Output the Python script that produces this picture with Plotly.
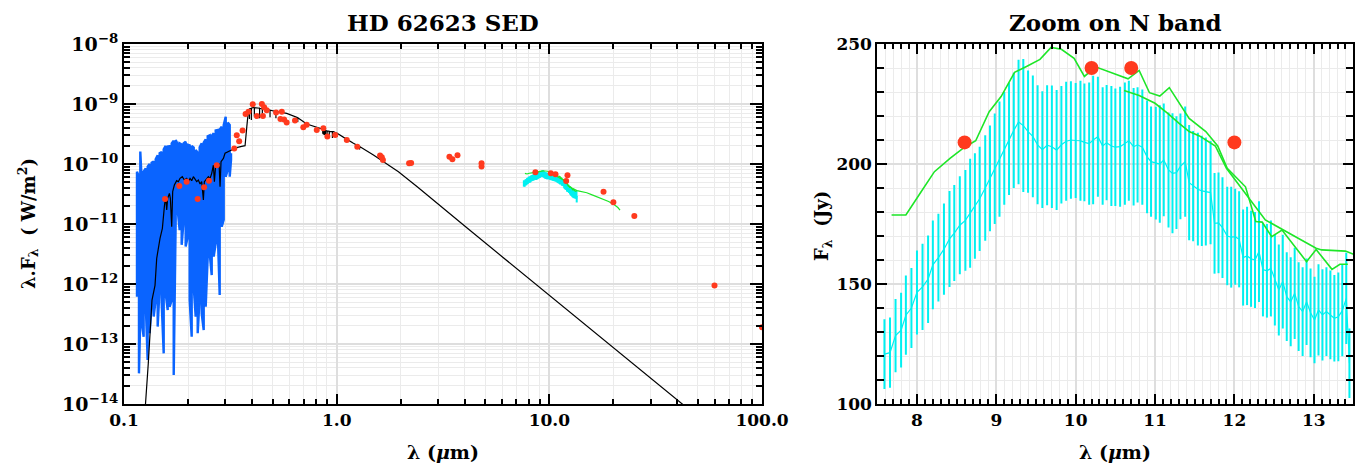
import plotly.graph_objects as go

# ---------------- data ----------------
# UV spectrum (upper / lower envelope of the noisy flux), um and W/m^2
uv_wave = [0.1151, 0.1176, 0.1193, 0.1211, 0.1237, 0.1265, 0.1292, 0.1320, 0.1349, 0.1379,
           0.1409, 0.1440, 0.1471, 0.1504, 0.1537, 0.1570, 0.1605, 0.1640, 0.1676, 0.1713,
           0.1750, 0.1788, 0.1827, 0.1867, 0.1908, 0.1950, 0.1993, 0.2036, 0.2081, 0.2127,
           0.2173, 0.2221, 0.2269, 0.2319, 0.2370, 0.2422, 0.2475, 0.2529, 0.2585, 0.2641,
           0.2699, 0.2758, 0.2818, 0.2880, 0.2943, 0.3008, 0.3073, 0.3141, 0.3186]
uv_top = [7.45e-11, 6.15e-11, 1.61e-10, 5.41e-11, 7.45e-11, 8.48e-11, 9.04e-11, 1.00e-10, 1.05e-10, 1.10e-10,
          1.20e-10, 1.40e-10, 1.51e-10, 1.58e-10, 1.76e-10, 2.00e-10, 1.95e-10, 1.98e-10, 2.21e-10, 2.45e-10,
          2.51e-10, 2.15e-10, 2.21e-10, 2.12e-10, 2.21e-10, 2.35e-10, 2.10e-10, 2.05e-10, 2.00e-10, 1.88e-10,
          1.71e-10, 1.55e-10, 1.90e-10, 2.21e-10, 2.28e-10, 2.58e-10, 2.90e-10, 3.00e-10, 2.95e-10, 3.24e-10,
          3.62e-10, 3.69e-10, 3.75e-10, 4.19e-10, 4.45e-10, 6.15e-10, 4.89e-10, 4.47e-10, 1.51e-10]
uv_bot = [6.15e-13, 3.24e-14, 2.86e-13, 2.36e-13, 1.32e-13, 4.76e-13, 5.41e-14, 1.51e-13, 4.76e-13, 2.86e-13,
          5.41e-13, 1.95e-13, 9.04e-13, 4.76e-13, 6.98e-14, 6.98e-13, 3.69e-13, 4.19e-13, 5.41e-13, 3.04e-14,
          1.17e-11, 1.71e-11, 7.94e-12, 4.50e-12, 1.17e-11, 4.20e-12, 6.15e-12, 5.41e-13, 1.32e-13, 9.04e-13,
          2.86e-13, 1.51e-13, 6.15e-13, 3.24e-13, 1.71e-13, 4.19e-13, 2.86e-12, 3.24e-12, 1.41e-12, 2.86e-12,
          4.76e-12, 7.94e-12, 6.56e-13, 9.04e-12, 1.17e-11, 6.15e-11, 7.94e-11, 6.15e-11, 1.17e-10]

# Photospheric model, um and W/m^2
model_wave = [0.1255, 0.1262, 0.1301, 0.1332, 0.1354, 0.1399, 0.1425, 0.1477, 0.1515, 0.1548,
              0.1570, 0.1588, 0.1605, 0.1635, 0.1652, 0.1676, 0.1694, 0.1725, 0.1769, 0.1801,
              0.1834, 0.1880, 0.1922, 0.1972, 0.2007, 0.2044, 0.2081, 0.2119, 0.2158, 0.2197,
              0.2237, 0.2278, 0.2319, 0.2362, 0.2387, 0.2448, 0.2493, 0.2539, 0.2585, 0.2632,
              0.2661, 0.2699, 0.2758, 0.2798, 0.2829, 0.2859, 0.2933, 0.2986, 0.3095, 0.3209,
              0.3388, 0.3577, 0.3709, 0.3780, 0.3842,
              0.3889, 0.3890, 0.3891, 0.3970, 0.3971, 0.3972, 0.4058,
              0.4101, 0.4102, 0.4103, 0.4340, 0.4341, 0.4342, 0.4471, 0.4472, 0.4473,
              0.4690, 0.4860, 0.4861, 0.4862, 0.5180, 0.5181, 0.5182, 0.5823,
              0.6562, 0.6563, 0.6564, 0.7232, 0.8500,
              0.8600, 0.8601, 0.8602, 0.8665, 0.8666, 0.8667, 0.8750, 0.8751, 0.8752,
              0.8863, 0.8864, 0.8865, 0.9015, 0.9016, 0.9017, 0.9229, 0.9230, 0.9231,
              0.9546, 0.9547, 0.9548, 0.9652, 1.0048, 1.0049, 1.0050, 1.0937, 1.0938, 1.0939,
              1.199, 1.2817, 1.2818, 1.2819, 1.489, 1.70, 1.952, 2.40, 2.85, 4.0, 6.0, 10.0,
              20.0, 43.0, 60.0]
model_flux = [5.0e-15, 1.0e-14, 4.8e-14, 1.7e-13, 5.4e-13, 9.5e-13, 2.68e-12, 5.77e-12, 8.48e-12, 1.95e-11,
              2.86e-11, 1.71e-11, 2.68e-11, 3.24e-11, 2.68e-11, 9.04e-12, 3.46e-11, 4.47e-11, 5.27e-11, 5.08e-11,
              5.77e-11, 6.15e-11, 5.41e-11, 5.77e-11, 5.08e-11, 5.77e-11, 5.27e-11, 6.15e-11, 5.55e-11, 5.08e-11,
              5.41e-11, 4.64e-11, 5.08e-11, 2.51e-11, 5.08e-11, 5.77e-11, 6.15e-11, 5.77e-11, 6.98e-11, 9.62e-11,
              5.08e-11, 9.62e-11, 9.04e-11, 1.03e-10, 4.19e-11, 1.09e-10, 1.24e-10, 1.51e-10, 1.60e-10, 1.75e-10,
              1.88e-10, 1.97e-10, 2.02e-10, 4.19e-10, 7.45e-10,
              8.3e-10, 5.6e-10, 8.3e-10, 8.5e-10, 5.4e-10, 8.5e-10, 8.8e-10,
              8.7e-10, 6.2e-10, 8.7e-10, 8.5e-10, 5.8e-10, 8.5e-10, 8.3e-10, 6.4e-10, 8.3e-10,
              8.1e-10, 7.9e-10, 6.0e-10, 7.9e-10, 7.5e-10, 5.8e-10, 7.5e-10, 6.98e-10,
              5.9e-10, 5.0e-10, 5.9e-10, 4.64e-10, 3.9e-10,
              3.8e-10, 3.2e-10, 3.8e-10, 3.75e-10, 3.1e-10, 3.75e-10, 3.7e-10, 3.05e-10, 3.7e-10,
              3.6e-10, 3.0e-10, 3.6e-10, 3.55e-10, 3.0e-10, 3.55e-10, 3.5e-10, 2.8e-10, 3.5e-10,
              3.47e-10, 2.7e-10, 3.47e-10, 3.46e-10, 3.25e-10, 2.85e-10, 3.25e-10, 2.7e-10, 2.4e-10, 2.7e-10,
              2.21e-10, 1.95e-10, 1.75e-10, 1.95e-10, 1.41e-10, 1.04e-10, 7.45e-11, 4.15e-11, 2.48e-11, 9.25e-12,
              2.85e-12, 6.46e-13, 8.6e-14, 9.3e-15, 3.6e-15]

# Broad-band photometry, um and W/m^2
sed_wave = [0.156, 0.182, 0.197, 0.222, 0.238, 0.251, 0.273, 0.330, 0.339, 0.348, 0.361,
            0.373, 0.385, 0.403, 0.421, 0.445, 0.450, 0.456, 0.469, 0.519, 0.544, 0.552,
            0.566, 0.582, 0.637, 0.697, 0.723, 0.806, 0.866, 0.904, 0.984, 1.116, 1.25,
            1.60, 1.63, 1.65, 2.19, 2.24, 3.39, 3.50, 3.70, 4.80, 4.80, 8.60, 10.16,
            10.69, 12.17, 12.0, 17.98, 20.0, 25.1, 59.8, 100.0]
sed_flux = [2.6e-11, 4.3e-11, 5.07e-11, 2.6e-11, 4.1e-11, 5.25e-11, 9.5e-11, 1.82e-10, 3.0e-10, 2.4e-10, 3.6e-10,
            6.8e-10, 7.4e-10, 9.87e-10, 6.3e-10, 1.0e-9, 6.3e-10, 8.8e-10, 7.9e-10, 7.2e-10, 5.6e-10, 7.4e-10,
            5.5e-10, 4.9e-10, 5.3e-10, 4.1e-10, 4.5e-10, 3.69e-10, 3.94e-10, 2.86e-10, 3.04e-10, 2.51e-10, 1.94e-10,
            1.38e-10, 1.30e-10, 1.17e-10, 1.03e-10, 1.04e-10, 1.32e-10, 1.20e-10, 1.40e-10, 1.03e-10, 0.91e-10, 7.27e-11, 7.0e-11,
            6.73e-11, 6.48e-11, 5.21e-11, 3.46e-11, 2.30e-11, 1.36e-11, 9.4e-13, 1.90e-13]

# N-band spectrum with uncertainties, um and Jy
nspec_wave = [7.59, 7.66, 7.73, 7.80, 7.86, 7.93, 8.00, 8.07, 8.14, 8.20, 8.27, 8.34, 8.41, 8.47, 8.54, 8.61,
              8.67, 8.73, 8.79, 8.86, 8.92, 8.98, 9.04, 9.10, 9.16, 9.22, 9.28, 9.34, 9.40, 9.46, 9.52, 9.58,
              9.64, 9.70, 9.76, 9.82, 9.88, 9.94, 10.00,
              10.06, 10.11, 10.17, 10.22, 10.28, 10.34, 10.39, 10.45, 10.50, 10.56, 10.62, 10.67, 10.73, 10.78,
              10.84, 10.90, 10.95, 11.01,
              11.06, 11.11, 11.17, 11.22, 11.27, 11.32, 11.38, 11.43, 11.48, 11.54, 11.59, 11.64, 11.70, 11.75,
              11.80, 11.85, 11.91, 11.96, 12.01,
              12.06, 12.11, 12.16, 12.21, 12.26, 12.31, 12.36, 12.41, 12.46, 12.51, 12.56, 12.61, 12.66, 12.71,
              12.76, 12.81, 12.86, 12.91, 12.96, 13.01, 13.06, 13.11, 13.16, 13.21, 13.26, 13.31, 13.36, 13.41, 13.45]
nspec_jy = [120.8, 121.4, 128.5, 130.8, 137.0, 140.0, 146.5, 148.8, 152.0, 158.0, 161.0, 164.5, 168.8, 171.2, 174.5, 176.5,
            179.5, 182.5, 185.5, 190.0, 194.0, 198.0, 202.0, 206.5, 210.5, 214.0, 217.5, 216.0, 213.5, 211.5, 208.0, 206.0,
            207.8, 207.2, 205.8, 208.0, 209.5, 210.0, 209.8,
            209.7, 209.0, 208.5, 210.0, 211.4, 207.5, 208.9, 207.5, 207.0, 207.2, 208.5, 209.7, 207.2, 208.0,
            207.0, 203.0, 201.0, 200.4,
            200.0, 201.7, 197.5, 196.1, 196.4, 199.0, 201.0, 192.2, 190.8, 189.5, 188.8, 188.5, 188.1, 175.3,
            175.5, 173.5, 170.0, 169.5, 169.7,
            168.6, 161.0, 161.7, 160.5, 160.0, 163.5, 156.0, 155.5, 156.5, 151.7, 147.5, 151.0, 144.7, 142.6,
            146.1, 140.6, 138.5, 142.6, 138.0, 135.0, 139.2, 137.1, 138.5, 137.1, 135.7, 136.3, 138.9, 144.0, 117.0]
nspec_err = [14.5, 14.6, 15.3, 15.6, 16.5, 16.7, 17.5, 18.0, 18.2, 18.5, 18.3, 19.0, 20.0, 20.0, 20.4, 21.0,
             22.7, 22.0, 21.7, 22.0, 22.0, 23.0, 24.0, 23.5, 23.4, 24.0, 25.9, 27.7, 25.5, 25.4, 24.8, 24.3,
             25.0, 25.5, 25.0, 24.5, 24.8, 24.5, 24.0,
             25.0, 24.5, 25.5, 26.8, 25.0, 24.5, 24.0, 25.0, 24.5, 25.0, 25.5, 25.0, 24.5, 24.0,
             24.0, 23.5, 23.0, 23.5,
             24.5, 23.5, 24.0, 25.0, 23.5, 22.0, 23.0, 24.0, 23.0, 23.5, 23.0, 22.5, 21.5, 21.0,
             21.0, 21.0, 20.5, 21.0, 20.0,
             20.0, 20.0, 20.5, 20.0, 20.0, 21.0, 19.5, 19.5, 20.0, 19.0, 19.0, 19.5, 18.5, 18.5,
             19.0, 18.5, 18.5, 18.0, 18.5, 18.0, 19.0, 19.0, 18.5, 18.5, 18.0, 18.5, 19.0, 19.0, 14.5]

# Two further mid-infrared spectra, um and Jy
spec1_wave = [7.68, 7.86, 8.04, 8.22, 8.42, 8.60, 8.74, 8.91, 9.06, 9.23, 9.38, 9.55, 9.69, 9.82, 9.98,
              10.11, 10.25, 10.66, 10.80, 10.93, 11.06, 11.18, 11.43, 11.64, 11.79, 11.91, 12.14, 12.27,
              12.35, 12.47, 12.60, 12.91, 13.03, 13.23, 13.33, 13.43]
spec1_jy = [178.75, 178.75, 187.8, 196.8, 202.4, 207.0, 209.7, 221.8, 228.1, 238.2, 240.6, 243.6, 248.6, 247.8, 244.0,
            236.5, 240.5, 235.5, 239.0, 229.7, 228.3, 231.8, 219.0, 213.5, 207.5, 198.2, 190.5, 176.0,
            175.8, 169.7, 172.5, 159.3, 164.4, 156.1, 158.2, 158.2]
spec2_wave = [10.61, 10.80, 11.00, 11.16, 11.30, 11.43, 11.56, 11.76, 11.90, 12.14, 12.39, 12.77, 13.03,
              13.10, 13.40, 13.50, 14.0, 15.0, 16.0, 17.0, 18.3, 19.0, 20.0, 21.0, 21.5]
spec2_jy = [230.6, 228.5, 225.3, 221.1, 217.0, 213.5, 211.7, 207.5, 198.2, 187.5, 176.7, 169.7, 164.9,
            164.2, 163.7, 162.4, 165.0, 166.0, 162.0, 158.0, 153.0, 150.0, 143.0, 132.0, 122.5]

# N-band photometry, um and Jy
nphot_wave = [8.6, 10.2, 10.7, 12.0]
nphot_jy = [209.0, 240.0, 240.0, 209.0]

# Axis ticks
sed_xticks = [0.1, 1.0, 10.0, 100.0]
sed_xlabels = ["0.1", "1.0", "10.0", "100.0"]
sed_yexp = [-14, -13, -12, -11, -10, -9, -8]

# ---------------- helpers ----------------
C_UM = 2.998e14  # speed of light in um/s


def jy_to_lam_flam(wave, jy):
    """Convert F_nu [Jy] into lambda*F_lambda [W/m^2]."""
    return [j * 1e-26 * C_UM / w for w, j in zip(wave, jy)]


BLUE = "#0a64ff"
CYAN = "#00f0f0"
GREEN = "#1ee628"
RED = "#ff3a1e"
GRID = "#ebebeb"
GRID_MAJ = "#dedede"
FONT = "DejaVu Serif"

fig = go.Figure()

# UV spectrum drawn as a dense zig-zag between its envelopes
zx, zy = [], []
for i, (w, t, b) in enumerate(zip(uv_wave, uv_top, uv_bot)):
    zx += [w, w]
    zy += [b, t] if i % 2 == 0 else [t, b]
fig.add_trace(go.Scatter(x=zx, y=zy, mode="lines", line=dict(color=BLUE, width=2.4),
                         xaxis="x", yaxis="y", showlegend=False))

# model
fig.add_trace(go.Scatter(x=model_wave, y=model_flux, mode="lines", line=dict(color="black", width=1.2),
                         xaxis="x", yaxis="y", showlegend=False))

# N-band spectrum on the SED
sed_nspec = jy_to_lam_flam(nspec_wave, nspec_jy)
sed_nerr = jy_to_lam_flam(nspec_wave, nspec_err)
fig.add_trace(go.Scatter(x=nspec_wave, y=sed_nspec, mode="lines", line=dict(color=CYAN, width=1),
                         error_y=dict(type="data", array=sed_nerr, color=CYAN, thickness=2, width=0),
                         xaxis="x", yaxis="y", showlegend=False))
for w, j in ((spec1_wave, spec1_jy), (spec2_wave, spec2_jy)):
    fig.add_trace(go.Scatter(x=w, y=jy_to_lam_flam(w, j), mode="lines", line=dict(color=GREEN, width=1.2),
                             xaxis="x", yaxis="y", showlegend=False))

fig.add_trace(go.Scatter(x=sed_wave, y=sed_flux, mode="markers",
                         marker=dict(color=RED, size=6, line=dict(width=0)),
                         xaxis="x", yaxis="y", showlegend=False, cliponaxis=True))

# ---- N-band zoom ----
fig.add_trace(go.Scatter(x=nspec_wave, y=nspec_jy, mode="lines", line=dict(color=CYAN, width=1.2),
                         error_y=dict(type="data", array=nspec_err, color=CYAN, thickness=2, width=0),
                         xaxis="x2", yaxis="y2", showlegend=False))
for w, j in ((spec1_wave, spec1_jy), (spec2_wave, spec2_jy)):
    fig.add_trace(go.Scatter(x=w, y=j, mode="lines", line=dict(color=GREEN, width=1.6),
                             xaxis="x2", yaxis="y2", showlegend=False))
fig.add_trace(go.Scatter(x=nphot_wave, y=nphot_jy, mode="markers",
                         marker=dict(color=RED, size=14, line=dict(width=0)),
                         xaxis="x2", yaxis="y2", showlegend=False))

# ---------------- axes ----------------
W, H = 1355, 463
x1_dom = [124 / W, 762 / W]
x2_dom = [877.3 / W, 1353.4 / W]
y_dom = [(H - 404) / H, (H - 44) / H]

tickfont = dict(family=FONT, size=17, color="black", weight="bold")

log_minor_x = [d * m for d in (0.1, 1, 10) for m in range(2, 10)]
log_minor_y = [10.0 ** e * m for e in range(-14, -8) for m in range(2, 10)]

axis_common = dict(showline=True, linecolor="black", linewidth=2, mirror="allticks",
                   ticks="inside", tickcolor="black", tickwidth=1.5, automargin=False,
                   zeroline=False, tickfont=tickfont)

fig.update_layout(
    width=W, height=H,
    margin=dict(l=0, r=0, t=0, b=0),
    paper_bgcolor="white", plot_bgcolor="white",
    xaxis=dict(type="log", domain=x1_dom, anchor="y", range=[-1, 2],
               tickmode="array", tickvals=sed_xticks, ticktext=sed_xlabels, ticklen=10,
               showgrid=True, gridcolor=GRID_MAJ, gridwidth=1.5,
               minor=dict(tickmode="array", tickvals=log_minor_x, ticks="inside", ticklen=5,
                          tickcolor="black", showgrid=True, gridcolor=GRID, gridwidth=1),
               **axis_common),
    yaxis=dict(type="log", domain=y_dom, anchor="x", range=[-14, -8],
               tickmode="array", tickvals=[10.0 ** e for e in sed_yexp],
               ticktext=["10<sup>\u2212%d</sup>" % (-e) for e in sed_yexp], ticklen=12,
               showgrid=True, gridcolor=GRID_MAJ, gridwidth=1.5,
               minor=dict(tickmode="array", tickvals=log_minor_y, ticks="inside", ticklen=6,
                          tickcolor="black", showgrid=True, gridcolor=GRID, gridwidth=1),
               **{**axis_common, "tickfont": dict(family=FONT, size=19, color="black", weight="bold")}),
    xaxis2=dict(domain=x2_dom, anchor="y2", range=[7.5, 13.5],
                tick0=0, dtick=1, ticklen=10,
                showgrid=True, gridcolor=GRID_MAJ, gridwidth=1.5,
                minor=dict(dtick=0.1, ticks="inside", ticklen=5, tickcolor="black",
                           showgrid=True, gridcolor=GRID, gridwidth=1),
                **axis_common),
    yaxis2=dict(domain=y_dom, anchor="x2", range=[100, 250],
                tick0=0, dtick=50, ticklen=10,
                showgrid=True, gridcolor=GRID_MAJ, gridwidth=1.5,
                minor=dict(dtick=10, ticks="inside", ticklen=7, tickcolor="black",
                           showgrid=True, gridcolor=GRID, gridwidth=1),
                **axis_common),
)

# ---------------- titles ----------------
bold = dict(family=FONT, color="black", weight="bold")
ann = [
    dict(text="HD 62623 SED", x=(124 + 762) / 2 / W, y=1 - 22 / H, font=dict(size=23, **bold)),
    dict(text="Zoom on N band", x=(877 + 1353) / 2 / W, y=1 - 22 / H, font=dict(size=23, **bold)),
    dict(text="\u03bb (<i>\u03bc</i>m)", x=(124 + 762) / 2 / W, y=1 - 452 / H, font=dict(size=19, **bold)),
    dict(text="\u03bb (<i>\u03bc</i>m)", x=(877 + 1353) / 2 / W, y=1 - 452 / H, font=dict(size=19, **bold)),
    dict(text="\u03bb.F<sub>\u03bb</sub>  ( W/m<sup>2</sup>)", x=28 / W, y=1 - 224 / H, textangle=-90,
         font=dict(size=18, **bold)),
    dict(text="F<sub>\u03bb</sub>  (Jy)", x=823 / W, y=1 - 226 / H, textangle=-90,
         font=dict(size=18, **bold)),
]
for a in ann:
    fig.add_annotation(xref="paper", yref="paper", showarrow=False, xanchor="center", yanchor="middle", **a)

fig.write_html("out.html")
